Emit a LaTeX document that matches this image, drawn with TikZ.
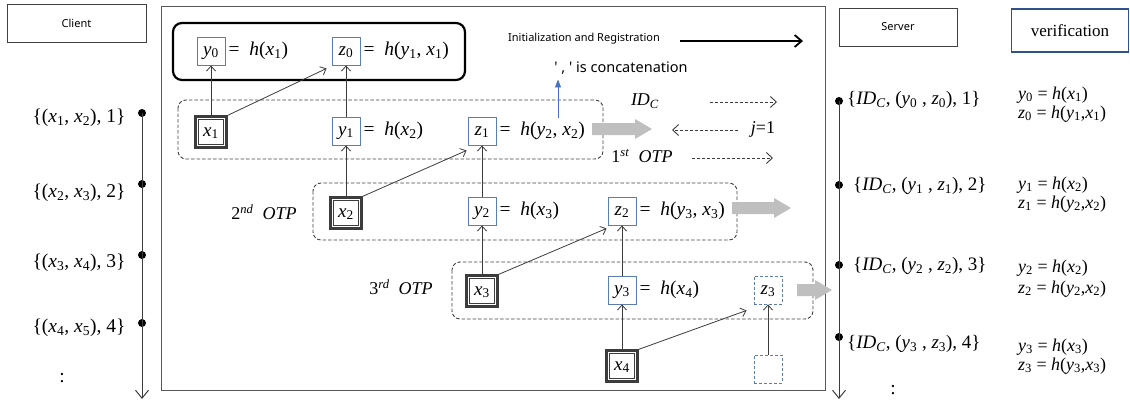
\documentclass[tikz,border=0pt]{standalone}
\usepackage{fontspec}
\setmainfont{Liberation Serif}
\newfontfamily\uisans{Noto Sans}
\usetikzlibrary{arrows.meta}
\newcommand\fsz[1]{\fontsize{#1}{#1}\selectfont}
\newcommand\vv[2]{\textit{#1}\textsubscript{#2}}
\newcommand\hh{\textit{h}}
\newcommand\IDC{\textit{ID}\textsubscript{\textit{C}}}
\newcommand\garrow[3]{\fill[lgray] (#1,#3-6) -- (#2-17,#3-6) -- (#2-17,#3-10) -- (#2,#3) -- (#2-17,#3+10) -- (#2-17,#3+6) -- (#1,#3+6) -- cycle;}
\definecolor{boxblue}{RGB}{90,125,180}
\definecolor{vblue}{RGB}{47,82,143}
\definecolor{lgray}{RGB}{191,191,191}
\definecolor{dgray}{RGB}{60,60,60}
\definecolor{bluearr}{RGB}{68,114,196}
\tikzset{
 bbox/.style={draw=boxblue,line width=0.9pt,minimum width=28pt,minimum height=28pt,inner sep=0pt,font=\fsz{19},text height=12.5pt,text depth=4.5pt},
 dbox/.style={bbox,dash pattern=on 3pt off 2pt},
 xbox/.style={draw=dgray,line width=2.2pt,minimum width=31pt,minimum height=31pt,inner sep=0pt,font=\fsz{19},text height=12.5pt,text depth=4.5pt,
   path picture={\draw[dgray,line width=0.9pt] ([shift={(3.3pt,3.3pt)}]path picture bounding box.south west) rectangle ([shift={(-3.3pt,-3.3pt)}]path picture bounding box.north east);}},
 eq/.style={anchor=west,inner sep=0pt,font=\fsz{19.5},text height=12.5pt,text depth=4.5pt},
 conn/.style={draw=dgray,line width=0.8pt,-{Straight Barb[length=5pt,width=9pt]}},
 dashbox/.style={draw=black!75,line width=0.9pt,rounded corners=8pt,dash pattern=on 3.5pt off 2pt},
 darr/.style={draw=dgray,line width=0.9pt,dash pattern=on 3pt off 2pt,-{Straight Barb[length=6pt,width=11pt]}},
 tl/.style={draw=dgray,line width=1pt,-{Straight Barb[length=8pt,width=13pt]}},
 dot/.style={circle,fill=black,minimum size=8pt,inner sep=0pt},
 labbox/.style={draw=black!75,line width=0.9pt,font=\uisans\fsz{11}},
 lab/.style={font=\fsz{19.5},inner sep=0pt},
 ver/.style={font=\fsz{18},anchor=west,inner sep=0pt},
 slab/.style={font=\fsz{19},anchor=west,inner sep=0pt},
 it18/.style={font=\fsz{18},inner sep=0pt},
}
\begin{document}
\begin{tikzpicture}[x=1pt,y=-1pt]
\useasboundingbox (0,0) rectangle (1130,402);

% ---------- Client side ----------
\node[labbox,minimum width=139pt,minimum height=38pt] (client) at (76.5,23) {Client};
\node[dot] (cd1) at (142,113) {};
\node[dot] (cd2) at (142,184) {};
\node[dot] (cd3) at (142,255) {};
\node[dot] (cd4) at (142,323) {};
\coordinate (cend) at (142,399);
\draw[tl] (cd1.center) -- (cend);
\node[lab] (cl1) at (79,118) {\{(\vv{x}{1}, \vv{x}{2}), 1\}};
\node[lab] (cl2) at (79,193) {\{(\vv{x}{2}, \vv{x}{3}), 2\}};
\node[lab] (cl3) at (79,263) {\{(\vv{x}{3}, \vv{x}{4}), 3\}};
\node[lab] (cl4) at (79,328) {\{(\vv{x}{4}, \vv{x}{5}), 4\}};
\node[lab] (cdots) at (62,378) {:};

% ---------- Main frame ----------
\draw[draw=black!65,line width=1pt] (161,6) rectangle (825,390);
\draw[line width=2.2pt,rounded corners=9pt] (173,23) rectangle (465,80);
\draw[dashbox] (178,100) rectangle (603,159);
\draw[dashbox] (313,183) rectangle (737,240);
\draw[dashbox] (452,262) rectangle (813,319);

% row 0
\node[bbox] (y0) at (211,51) {\vv{y}{0}};
\node[eq] (y0e) at ([xshift=3pt]y0.east) {=\ \ \hh(\vv{x}{1})};
\node[bbox] (z0) at (346,51) {\vv{z}{0}};
\node[eq] (z0e) at ([xshift=3pt]z0.east) {=\ \ \hh(\vv{y}{1}, \vv{x}{1})};
% row 1
\node[xbox] (x1) at (211,132) {\vv{x}{1}};
\node[bbox] (y1) at (346,131) {\vv{y}{1}};
\node[eq] (y1e) at ([xshift=3pt]y1.east) {=\ \ \hh(\vv{x}{2})};
\node[bbox] (z1) at (482,131) {\vv{z}{1}};
\node[eq] (z1e) at ([xshift=3pt]z1.east) {=\ \ \hh(\vv{y}{2}, \vv{x}{2})};
% row 2
\node[xbox] (x2) at (346,213) {\vv{x}{2}};
\node[bbox] (y2) at (482,211) {\vv{y}{2}};
\node[eq] (y2e) at ([xshift=3pt]y2.east) {=\ \ \hh(\vv{x}{3})};
\node[bbox] (z2) at (622,211) {\vv{z}{2}};
\node[eq] (z2e) at ([xshift=3pt]z2.east) {=\ \ \hh(\vv{y}{3}, \vv{x}{3})};
% row 3
\node[xbox] (x3) at (482,291) {\vv{x}{3}};
\node[bbox] (y3) at (622,290) {\vv{y}{3}};
\node[eq] (y3e) at ([xshift=3pt]y3.east) {=\ \ \hh(\vv{x}{4})};
\node[dbox] (z3) at (768,290) {\vv{z}{3}};
% row 4
\node[xbox] (x4) at (622,366) {\vv{x}{4}};
\node[dbox] (e4) at (768,369) {};

% connectors
\draw[conn] (x1.north) -- (y0.south);
\draw[conn] (x1.north east) -- ([xshift=-5pt,yshift=-3pt]z0.south west);
\draw[conn] (y1.north) -- (z0.south);
\draw[conn] (x2.north) -- (y1.south);
\draw[conn] (x2.north east) -- ([xshift=-1pt,yshift=-5pt]z1.south west);
\draw[conn] (y2.north) -- (z1.south);
\draw[conn] (x3.north) -- (y2.south);
\draw[conn] (x3.north east) -- ([xshift=-1pt,yshift=-3pt]z2.south west);
\draw[conn] (y3.north) -- (z2.south);
\draw[conn] (x4.north) -- (y3.south);
\draw[conn] (x4.north east) -- ([xshift=-7pt,yshift=-6pt]z3.south west);
\draw[conn] (e4.north) -- (z3.south);

% labels in frame
\node[it18] (otp2) at (264,212) {2\textsuperscript{\textit{nd}}\ \ \textit{OTP}};
\node[it18] (otp3) at (401,287) {3\textsuperscript{\textit{rd}}\ \ \textit{OTP}};
\node[font=\uisans\fsz{11},inner sep=0pt] (init) at (584,39) {Initialization and Registration};
\coordinate (inits) at (680,41);
\coordinate (inite) at (803,41);
\draw[line width=1.8pt,-{Straight Barb[length=7pt,width=12pt]}] (inits) -- (inite);
\node[font=\uisans\fsz{14.5},inner sep=0pt] (concat) at (621,68) {'\ ,\ '\ is concatenation};
\coordinate (comma) at (558,118);
\draw[bluearr,line width=0.9pt,-{Triangle[length=8pt,width=6pt]}] (comma) -- ([yshift=-5pt]comma |- concat.south);

\node[it18] (idc) at (645,101) {\IDC};
\coordinate (a1s) at (710,102); \coordinate (a1e) at (777,102);
\draw[darr] (a1s) -- (a1e);
\node[it18] (j1) at (763,129) {\textit{j}=1};
\coordinate (a2s) at (738,130); \coordinate (a2e) at (672,130);
\draw[darr] (a2s) -- (a2e);
\node[it18] (otp1) at (642,156) {1\textsuperscript{\textit{st}}\ \ \textit{OTP}};
\coordinate (a3s) at (692,158); \coordinate (a3e) at (773,158);
\draw[darr] (a3s) -- (a3e);

% grey block arrows
\garrow{592}{652}{129}
\garrow{732}{791}{208}
\garrow{797}{832}{290}

% ---------- Server side ----------
\node[labbox,minimum width=118pt,minimum height=38pt] (server) at (898,27) {Server};
\node[draw=vblue,line width=1.3pt,minimum width=117pt,minimum height=43pt,font=\fsz{17},inner sep=0pt] (verif) at (1070,30.5) {verification};
\node[dot] (sd1) at (839,101) {};
\node[dot] (sd2) at (839,185) {};
\node[dot] (sd3) at (839,265) {};
\node[dot] (sd4) at (839,337) {};
\coordinate (send) at (839,399);
\draw[tl] (sd1.center) -- (send);
\node[slab] (sl1) at (847,100) {\{\IDC, (\vv{y}{0} , \vv{z}{0}), 1\}};
\node[slab] (sl2) at (853,186) {\{\IDC, (\vv{y}{1} , \vv{z}{1}), 2\}};
\node[slab] (sl3) at (853,266) {\{\IDC, (\vv{y}{2} , \vv{z}{2}), 3\}};
\node[slab] (sl4) at (847,344) {\{\IDC, (\vv{y}{3} , \vv{z}{3}), 4\}};
\node[lab] (sdots) at (893,390) {:};

% verification formulas
\node[ver] (v0a) at (1018,95) {\vv{y}{0} = \hh(\vv{x}{1})};
\node[ver] (v0b) at (1018,114) {\vv{z}{0} = \hh(\vv{y}{1},\vv{x}{1})};
\node[ver] (v1a) at (1018,185) {\vv{y}{1} = \hh(\vv{x}{2})};
\node[ver] (v1b) at (1018,204) {\vv{z}{1} = \hh(\vv{y}{2},\vv{x}{2})};
\node[ver] (v2a) at (1018,268) {\vv{y}{2} = \hh(\vv{x}{2})};
\node[ver] (v2b) at (1018,289) {\vv{z}{2} = \hh(\vv{y}{2},\vv{x}{2})};
\node[ver] (v3a) at (1018,347) {\vv{y}{3} = \hh(\vv{x}{3})};
\node[ver] (v3b) at (1018,366) {\vv{z}{3} = \hh(\vv{y}{3},\vv{x}{3})};
\end{tikzpicture}
\end{document}
